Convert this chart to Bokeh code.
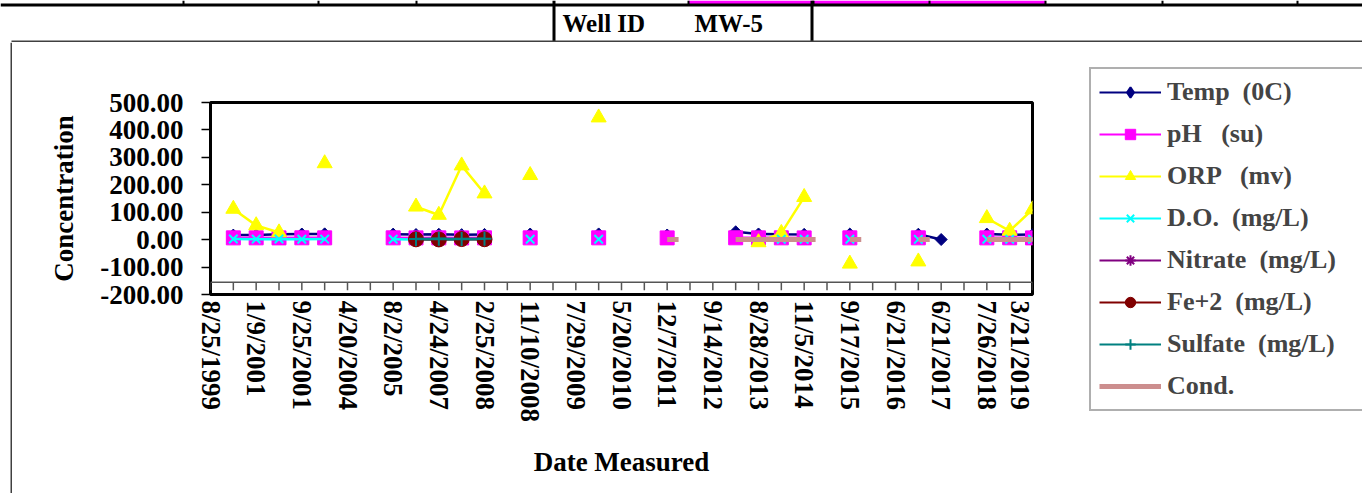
import math
import numpy as np
from bokeh.plotting import figure
from bokeh.layouts import column, row
from bokeh.core.properties import value
from bokeh.models import (Range1d, FixedTicker, NumeralTickFormatter, Span, ColumnDataSource,
                          Legend, LegendItem)
from bokeh.embed import file_html
from bokeh.resources import INLINE

N = None
# ---- data (category index 0..36 along the x axis; labels shown on every 2nd category)
date_labels = ["8/25/1999", "1/9/2001", "9/25/2001", "4/20/2004", "8/2/2005", "4/24/2007",
               "2/25/2008", "11/10/2008", "7/29/2009", "5/20/2010", "12/7/2011", "9/14/2012",
               "8/28/2013", "11/5/2014", "9/17/2015", "6/21/2016", "6/21/2017", "7/26/2018",
               "3/21/2019"]
n_cat = 37
cat_idx = list(range(n_cat))

#          0  1     2     3     4     5     6  7  8     9     10    11    12    13 14    15 16 17    18 19 20    21 22 23    24    25    26    27 28    29 30 31    32   33 34    35    36
temp    = [N, 16.5, 17.2, 19.8, 20.5, 21.0, N, N, 20.1, 18.6, 19.4, 18.2, 19.0, N, 20.4, N, N, 20.8, N, N, 16.9, N, N, 28.5, 20.6, 19.8, 19.2, N, 20.3, N, N, 19.7, 0.5, N, 20.2, 17.9, 18.8]
ph      = [N, 6.5,  6.6,  6.4,  6.7,  6.5,  N, N, 6.6,  6.4,  6.5,  6.3,  6.6,  N, 6.5,  N, N, 6.6,  N, N, 6.4,  N, N, 6.7,  6.5,  6.6,  6.4,  N, 6.5,  N, N, 6.6,  N,   N, 6.5,  6.7,  6.4]
orp     = [N, 112,  52,   26,   N,    278,  N, N, N,    120,  90,   270,  168,  N, 235,  N, N, 445,  N, N, N,    N, N, N,    -10,  24,   155,  N, -88,  N, N, -80,  N,   N, 78,   32,   110]
do      = [N, 2.1,  1.8,  2.4,  1.6,  2.0,  N, N, 1.2,  0.9,  1.1,  0.8,  1.0,  N, 1.4,  N, N, 1.3,  N, N, N,    N, N, N,    N,    1.5,  1.7,  N, 1.2,  N, N, 1.1,  N,   N, 1.4,  1.6,  1.3]
nitrate = [N] * n_cat
fe2     = [N, N,    N,    N,    N,    N,    N, N, N,    1.2,  0.8,  2.1,  1.5,  N, N,    N, N, N,    N, N, N,    N, N, N,    N,    N,    N,    N, N,    N, N, N,    N,   N, N,    N,    N]
sulfate = [N, N,    N,    N,    N,    N,    N, N, N,    2.5,  3.1,  2.2,  2.8,  N, N,    N, N, N,    N, N, N,    N, N, N,    N,    N,    N,    N, N,    N, N, N,    N,   N, N,    N,    N]
# Cond. is plotted on its own half-step positions
cond_x   = [20, 20.5, N, 23, 23.5, 24, 24.5, 25, 25.5, 26, 26.5, N, 28, 28.5, N, 31, 31.5, N, 34, 34.5, 35, 35.5, 36, 36.5]
cond_val = [0.5, 0.5, N, 0.5, 0.5, 0.5, 0.5, 0.5, 0.5, 0.5, 0.5, N, 0.5, 0.5, N, 0.5, 0.5, N, 0.5, 0.5, 0.5, 0.5, 0.5, 0.5]

series_names = ["Temp  (0C)", "pH   (su)", "ORP   (mv)", "D.O.  (mg/L)", "Nitrate  (mg/L)",
                "Fe+2  (mg/L)", "Sulfate  (mg/L)", "Cond."]
y_ticks = [-200, -100, 0, 100, 200, 300, 400, 500]
axis_cross = -155   # value at which the category axis crosses
header_texts = ["Well ID", "MW-5"]

def arr(v):
    return np.array(v, dtype=float)

FONT = "Liberation Serif"
W, H = 1362, 493
TOP_H = 42            # spreadsheet strip above the chart
BORDER_W = 12         # strip holding the chart's left border
FL, FR, FT, FB = 210, 1032, 102, 294   # plot-area edges in page pixels
MAIN_W = FR + 2 - BORDER_W
LEG_W = W - BORDER_W - MAIN_W
BOT_H = H - TOP_H

def bare(width, height, xr, yr):
    f = figure(width=width, height=height, output_backend="svg", toolbar_location=None,
               x_range=xr, y_range=yr, x_axis_type=None, y_axis_type=None,
               min_border=0, min_border_left=0, min_border_right=0, min_border_top=0, min_border_bottom=0)
    f.frame_align = False
    f.outline_line_color = None
    f.xgrid.visible = False
    f.ygrid.visible = False
    f.background_fill_color = "white"
    f.border_fill_color = "white"
    return f

# ---------------- top spreadsheet strip (pixel coordinates, y downward)
top = bare(W, TOP_H, Range1d(0, W), Range1d(TOP_H, 0))
top.quad(left=[688], right=[1045], top=[0], bottom=[3.5], fill_color="#FF00FF", line_color=None)
top.quad(left=[0], right=[W], top=[3], bottom=[6], fill_color="black", line_color=None)
cell_x = [183, 318, 416, 688, 813, 929, 1045, 1162, 1297]
top.quad(left=[c - 1 for c in cell_x], right=[c + 1 for c in cell_x], top=[0] * len(cell_x),
         bottom=[5] * len(cell_x), fill_color="black", line_color=None)
top.quad(left=[552, 810], right=[555, 813], top=[0, 0], bottom=[TOP_H, TOP_H], fill_color="black", line_color=None)
top.quad(left=[11], right=[W], top=[TOP_H - 2], bottom=[TOP_H], fill_color="#404040", line_color=None)
top.text(x=[562, 694], y=[23, 23], text=header_texts, text_font=value(FONT), text_font_style="bold",
         text_font_size="25px", text_color="black", text_baseline="middle", text_align="left")

# ---------------- left border strip
brd = bare(BORDER_W, BOT_H, Range1d(0, BORDER_W), Range1d(0, BOT_H))
brd.quad(left=[10], right=[12], top=[BOT_H], bottom=[0], fill_color="#404040", line_color=None)

# ---------------- main chart
p = figure(width=MAIN_W, height=BOT_H, output_backend="svg", toolbar_location=None,
           x_range=Range1d(0, n_cat - 1), y_range=Range1d(y_ticks[0], y_ticks[-1]),
           min_border_left=FL - BORDER_W, min_border_right=2, min_border_top=FT - TOP_H,
           min_border_bottom=H - FB)
p.frame_align = False
p.background_fill_color = "white"
p.border_fill_color = "white"
p.outline_line_color = "black"
p.outline_line_width = 3
p.xgrid.visible = False
p.ygrid.visible = False

xax = p.xaxis[0]
xax.ticker = FixedTicker(ticks=[2 * k for k in range(len(date_labels))])
xax.major_label_overrides = {2 * k: lab for k, lab in enumerate(date_labels)}
xax.major_label_orientation = -math.pi / 2
xax.major_tick_line_color = None
xax.minor_tick_line_color = None
xax.axis_line_color = None
xax.major_label_standoff = 0
xax.major_label_text_font = FONT
xax.major_label_text_font_style = "bold"
xax.major_label_text_font_size = "27px"
xax.major_label_text_color = "black"
xax.axis_label = "Date Measured"
xax.axis_label_text_font = FONT
xax.axis_label_text_font_style = "bold"
xax.axis_label_text_font_size = "27px"
xax.axis_label_text_color = "black"
xax.axis_label_standoff = 22

yax = p.yaxis[0]
yax.ticker = FixedTicker(ticks=y_ticks)
yax.formatter = NumeralTickFormatter(format="0.00")
yax.major_tick_out = 9
yax.major_tick_in = 0
yax.major_tick_line_width = 1.5
yax.minor_tick_line_color = None
yax.axis_line_color = None
yax.major_label_standoff = 18
yax.major_label_text_font = FONT
yax.major_label_text_font_style = "bold"
yax.major_label_text_font_size = "27px"
yax.major_label_text_color = "black"
yax.axis_label = "Concentration"
yax.axis_label_text_font = FONT
yax.axis_label_text_font_style = "bold"
yax.axis_label_text_font_size = "27px"
yax.axis_label_text_color = "black"
yax.axis_label_standoff = 18

# inner category axis line with a tick at every category
units_per_px = (y_ticks[-1] - y_ticks[0]) / (FB - FT)
p.add_layout(Span(location=axis_cross, dimension="width", line_color="#555555", line_width=1.5))
p.segment(x0=cat_idx, x1=cat_idx, y0=[axis_cross] * n_cat, y1=[axis_cross - 8 * units_per_px] * n_cat,
          line_color="#555555", line_width=1.5)

# series style: (values, color, marker, size, angle, filled, marker line width)
styles = [
    (temp, "#000080", "square", 8.5, math.pi / 4, True, 1.0),
    (ph, "#FF00FF", "square", 14, 0.0, True, 1.0),
    (orp, "#FFFF00", "triangle", 15, 0.0, True, 1.0),
    (do, "#00FFFF", "x", 12, 0.0, False, 2.0),
    (nitrate, "#800080", "asterisk", 12, 0.0, False, 2.0),
    (fe2, "#800000", "circle", 15, 0.0, True, 1.0),
    (sulfate, "#008080", "cross", 14, 0.0, False, 2.0),
]
cond_color = "#CC8E8E"

x = arr(cat_idx)
for vals, color, marker, size, angle, filled, mlw in styles:
    p.line(x, arr(vals), line_color=color, line_width=2.5)
    p.scatter(x, arr(vals), marker=marker, size=size, angle=angle,
              fill_color=color if filled else None, line_color=color, line_width=mlw)
p.line(arr(cond_x), arr(cond_val), line_color=cond_color, line_width=5)

# ---------------- legend panel (same styles, drawn beside the chart)
leg = bare(LEG_W, BOT_H, Range1d(0, 1), Range1d(0, 1))
items = []
for name, (vals, color, marker, size, angle, filled, mlw) in zip(series_names, styles):
    src = ColumnDataSource(dict(x=[np.nan], y=[np.nan]))
    r1 = leg.line("x", "y", source=src, line_color=color, line_width=2)
    lmarker, lsize, llw = marker, size + 1, mlw
    if marker == "square" and angle:
        lmarker, lsize, llw = "diamond", 15, 2.0
    r2 = leg.scatter("x", "y", source=src, marker=lmarker, size=lsize,
                     fill_color=color if filled else None, line_color=color, line_width=llw)
    items.append(LegendItem(label=name, renderers=[r1, r2], index=0))
rc = leg.line([np.nan], [np.nan], line_color=cond_color, line_width=5)
items.append(LegendItem(label=series_names[7], renderers=[rc], index=0))

LEG_LEFT, LEG_BOTTOM = 1089, 411
legend = Legend(items=items, location=(LEG_LEFT - (BORDER_W + MAIN_W), H - LEG_BOTTOM),
                padding=8, margin=0, glyph_width=62, glyph_height=26, label_height=26, spacing=12,
                label_standoff=6, label_text_font=FONT, label_text_font_style="bold",
                label_text_font_size="26px", label_width=240, border_line_color="#606060",
                border_line_width=2, background_fill_color="white")
leg.add_layout(legend, "center")

layout = column(top, row(brd, p, leg, spacing=0), spacing=0)
open("out.html", "w").write(file_html(layout, INLINE))
